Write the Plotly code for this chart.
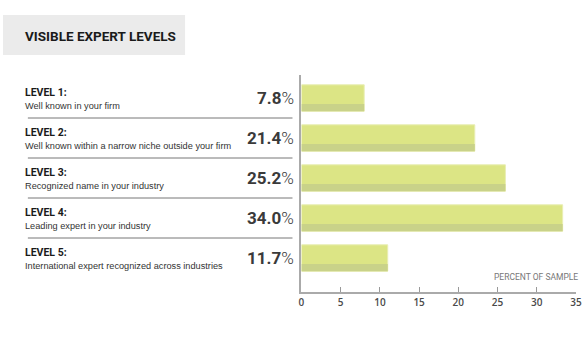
import plotly.graph_objects as go

levels = ["LEVEL 1:", "LEVEL 2:", "LEVEL 3:", "LEVEL 4:", "LEVEL 5:"]
descriptions = [
    "Well known in your firm",
    "Well known within a narrow niche outside your firm",
    "Recognized name in your industry",
    "Leading expert in your industry",
    "International expert recognized across industries",
]
pct_labels = ["7.8", "21.4", "25.2", "34.0", "11.7"]
bar_values = [8.0, 22.1, 26.0, 33.3, 11.0]
x_ticks = [0, 5, 10, 15, 20, 25, 30, 35]

W, H = 585, 348
ML, MR, MT, MB = 0, 9, 75, 56
PW = W - ML - MR
PH = H - MT - MB

def px_x(p):
    return (p - ML) / PW

def px_y(p):
    return (H - MB - p) / PH

COND = "Roboto, Liberation Sans, sans-serif"

pos = list(range(len(levels)))

fig = go.Figure()
fig.add_trace(go.Bar(
    y=pos, x=bar_values, orientation="h",
    width=0.66, offset=-0.33,
    marker=dict(color="#dce585", line=dict(color="#e9eeb4", width=1)),
    hoverinfo="skip", showlegend=False,
))
fig.add_trace(go.Bar(
    y=pos, x=bar_values, orientation="h",
    width=0.18, offset=0.15,
    marker=dict(color="#c9d289", line=dict(width=0)),
    hoverinfo="skip", showlegend=False,
))

fig.update_layout(
    width=W, height=H,
    margin=dict(l=ML, r=MR, t=MT, b=MB),
    paper_bgcolor="white", plot_bgcolor="white",
    barmode="overlay",
    xaxis=dict(
        domain=[px_x(300), 1], range=[0, 35],
        tickvals=x_ticks, ticktext=[str(v) for v in x_ticks],
        showline=True, linecolor="#aaaaaa", linewidth=2,
        ticks="inside", ticklen=5, tickcolor="#999999", tickwidth=1,
        showgrid=False, zeroline=False,
        tickfont=dict(family="Open Sans, Lato, sans-serif", size=10, color="#4a4a4a", weight=600),
        fixedrange=True,
    ),
    yaxis=dict(
        range=[4.85, -0.575], showline=True, linecolor="#aaaaaa", linewidth=2,
        showticklabels=False, ticks="", showgrid=False, zeroline=False,
    ),
)

shapes = []
annotations = []
# title box
shapes.append(dict(type="rect", xref="paper", yref="paper",
                   x0=px_x(0), x1=px_x(183), y0=px_y(55), y1=px_y(15),
                   fillcolor="#ebebeb", line=dict(width=0), layer="below"))
annotations.append(dict(xref="paper", yref="paper", x=px_x(20), y=px_y(36),
                        xanchor="left", yanchor="middle", showarrow=False,
                        text="<b>VISIBLE EXPERT LEVELS</b>",
                        font=dict(family=COND, size=13.5, color="#1a1a1a")))

for i in pos:
    annotations.append(dict(xref="paper", yref="y", x=px_x(20), y=i - 0.13,
                            xanchor="left", yanchor="middle", showarrow=False,
                            text="<b>" + levels[i] + "</b>",
                            font=dict(family=COND, size=10.5, color="#1a1a1a")))
    annotations.append(dict(xref="paper", yref="y", x=px_x(20), y=i + 0.2,
                            xanchor="left", yanchor="middle", showarrow=False,
                            text=descriptions[i],
                            font=dict(family="Liberation Sans, Arial, sans-serif", size=9.2, color="#333333")))
    annotations.append(dict(xref="paper", yref="y", x=px_x(295), y=i,
                            xanchor="right", yanchor="middle", showarrow=False,
                            text="<b>" + pct_labels[i] + "</b><span style='font-weight:300'>%</span>",
                            font=dict(family=COND, size=17, color="#3a3a3a")))
    if i < len(pos) - 1:
        shapes.append(dict(type="line", xref="paper", yref="y",
                           x0=px_x(25), x1=px_x(291), y0=i + 0.5, y1=i + 0.5,
                           line=dict(color="#777777", width=1)))

annotations.append(dict(xref="paper", yref="paper", x=px_x(580), y=px_y(277),
                        xanchor="right", yanchor="middle", showarrow=False,
                        text="PERCENT OF SAMPLE",
                        font=dict(family=COND, size=8.5, color="#777777")))

fig.update_layout(shapes=shapes, annotations=annotations)
fig.write_html("out.html")
